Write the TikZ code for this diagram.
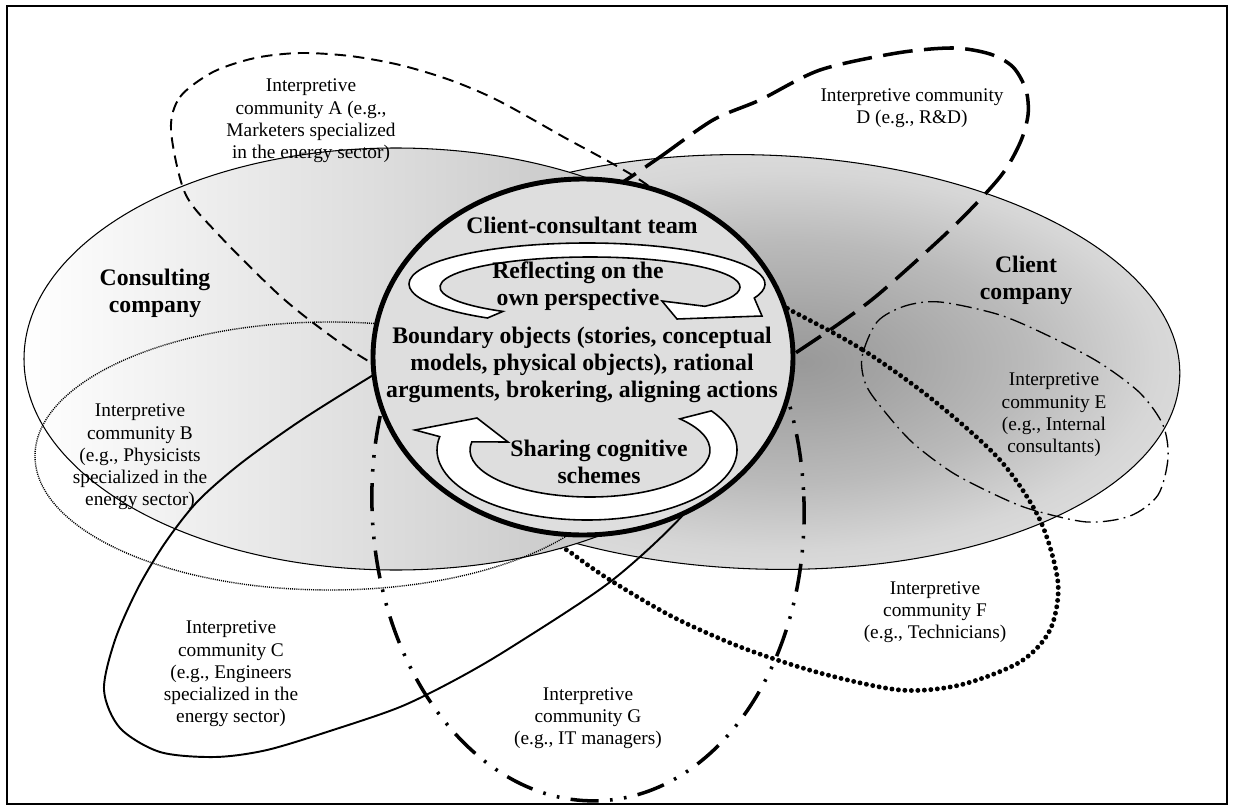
\documentclass[tikz,border=0pt]{standalone}
\usepackage{fontspec}
\setmainfont{Liberation Serif}
\usetikzlibrary{calc}
\pgfdeclareradialshading{clientshade}{\pgfpoint{2.5bp}{0bp}}{%
  color(0bp)=(black!40); color(5bp)=(black!36); color(14bp)=(black!27);
  color(22bp)=(black!16); color(25bp)=(black!14); color(50bp)=(black!14)}
\tikzset{
  company/.style={draw=black, line width=0.6pt},
  comA/.style={line width=1.1pt, dash pattern=on 6.5pt off 4pt},
  comB/.style={line width=0.8pt, dash pattern=on 0.6pt off 0.6pt},
  comC/.style={line width=1.1pt},
  comD/.style={line width=2pt, dash pattern=on 17pt off 6.5pt},
  comE/.style={line width=0.75pt, dash pattern=on 9pt off 3pt on 1pt off 3pt},
  comF/.style={line width=2.8pt, line cap=round, dash pattern=on 0pt off 3.7pt},
  comG/.style={line width=2pt, dash pattern=on 16pt off 6.5pt on 1.5pt off 6.5pt on 1.5pt off 6.5pt},
  teamring/.style={draw=black, line width=2.8pt, fill=black!13},
  loopband/.style={draw=black, line width=0.9pt, fill=white},
  lbl/.style={font=\fontsize{11}{12.7}\selectfont, align=center, inner sep=0pt},
  headtxt/.style={font=\fontsize{13.5}{15.5}\selectfont\bfseries, align=center, inner sep=0pt},
}
\begin{document}
\begin{tikzpicture}[x=0.02cm, y=-0.02cm]
  \useasboundingbox (0,0) rectangle (1234,811);
  \draw[line width=0.9pt] (7,6) rectangle (1227,804);

  % client company
  \shadedraw[shading=clientshade, company, rotate around={-2:(760,362)}]
    (760,362) ellipse [x radius=420, y radius=207];

  % communities lying under the consulting company
  \draw[comF] plot[smooth cycle] coordinates {(790,310) (863,350) (933,400)
    (1000,460) (1040,520) (1058,583) (1050,630) (1020,662) (960,685) (900,690)
    (820,673) (743,648) (673,617) (610,580) (570,552) (530,520) (580,420) (700,265)};
  \draw[comE] plot[smooth cycle] coordinates {(862,357) (877,322) (905,306)
    (940,302) (1000,315) (1053,338) (1100,363) (1140,393) (1163,425) (1168,458)
    (1158,495) (1130,516) (1087,522) (1033,510) (1000,497) (953,473) (913,443)
    (885,412) (866,385)};
  \draw[comD] plot[smooth cycle] coordinates {(623,182) (660,157) (713,120)
    (760,100) (820,70) (897,53) (953,48) (990,54) (1013,67) (1026,90) (1028,115)
    (1020,143) (1000,177) (953,227) (880,293) (840,323) (797,352) (740,390)
    (620,330) (570,215)};

  % consulting company
  \shadedraw[left color=white, right color=black!28, company]
    (396,359) ellipse [x radius=372, y radius=211];

  % communities on top
  \draw[comA] plot[smooth cycle] coordinates {(171,130) (180,97) (213,72)
    (255,58) (300,53) (350,56) (400,65) (450,80) (497,100) (560,135) (650,187)
    (710,250) (720,330) (680,410) (580,440) (470,415) (370,362) (320,328)
    (277,293) (217,233) (185,193)};
  \draw[comB] (330,456) ellipse [x radius=295, y radius=134];
  \draw[comC] plot[smooth cycle] coordinates {(370,377) (300,421) (240,464)
    (197,502) (165,543) (138,588) (115,640) (104,690) (120,728) (160,752)
    (215,757) (267,750) (333,730) (400,707) (455,680) (510,648) (610,582)
    (683,515) (720,460) (690,380) (570,330) (440,335)};
  \draw[comG, rotate around={2.3:(588,505)}]
    (588,505) ellipse [x radius=216, y radius=296];

  % team
  \draw[teamring] (583,357) ellipse [x radius=210, y radius=178];

  % circular arrows
  \draw[loopband] ($(587,284)+(124:178 and 41)$)
    arc [start angle=124, end angle=380, x radius=178, y radius=41]
    -- (762,316) -- (677,319) -- (662,301) -- ($(590,287)+(40:150 and 30)$)
    arc [start angle=40, end angle=-234.5, x radius=150, y radius=30] -- cycle;
  \draw[loopband] ($(587,450)+(-34:150 and 70)$)
    arc [start angle=-34, end angle=191, x radius=150, y radius=70]
    -- (415,430) -- (477,418) -- (508,442) -- ($(590,450)+(190:120 and 47)$)
    arc [start angle=190, end angle=-41.5, x radius=120, y radius=47] -- cycle;

  % texts
  \node[headtxt] (team) at (582,225) {Client-consultant team};
  \node[headtxt] (reflect) at (578,286) {Reflecting on the\\own perspective};
  \node[headtxt] (boundary) at (582,365) {Boundary objects (stories, conceptual\\models, physical objects), rational\\arguments, brokering, aligning actions};
  \node[headtxt] (sharing) at (599,462) {Sharing cognitive\\schemes};
  \node[headtxt] (consult) at (155,293) {Consulting\\company};
  \node[headtxt] (client) at (1026,280) {Client\\company};

  \node[lbl] (lblA) at (311,121) {Interpretive\\community A (e.g.,\\Marketers specialized\\in the energy sector)};
  \node[lbl] (lblB) at (140,457) {Interpretive\\community B\\(e.g., Physicists\\specialized in the\\energy sector)};
  \node[lbl] (lblC) at (231,674) {Interpretive\\community C\\(e.g., Engineers\\specialized in the\\energy sector)};
  \node[lbl] (lblD) at (912,108) {Interpretive community\\D (e.g., R\&D)};
  \node[lbl] (lblE) at (1054,415) {Interpretive\\community E\\(e.g., Internal\\consultants)};
  \node[lbl] (lblF) at (935,612) {Interpretive\\community F\\(e.g., Technicians)};
  \node[lbl] (lblG) at (588,718) {Interpretive\\community G\\(e.g., IT managers)};
\end{tikzpicture}
\end{document}
